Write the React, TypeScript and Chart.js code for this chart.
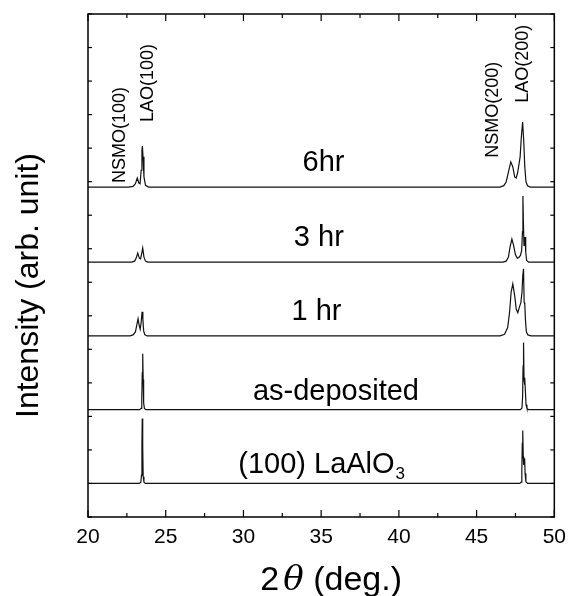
import React, { useEffect, useRef } from "react";
import { Chart, registerables } from "chart.js";

Chart.register(...registerables);

const FONT = "'Liberation Sans', Arial, Helvetica, sans-serif";

// x-axis
const xMin = 20;
const xMax = 50;
const xStep = 2.5;
// y-axis (arbitrary units, stacked)
const yMin = 0;
const yMax = 15;

// axis titles
const xTitleMain = "2";
const xTitleSymbol = "θ";
const xTitleUnit = " (deg.)";
const yTitle = "Intensity (arb. unit)";

// sample names (bottom to top) and their vertical offsets
const sampleNames = ["(100) LaAlO", "as-deposited", "1 hr", "3 hr", "6hr"];
const sampleOffsets = [1.0, 3.2, 5.4, 7.6, 9.84];
// label anchor (2θ, height above baseline)
const sampleLabelX = [35.0, 35.95, 34.7, 34.85, 35.15];
const sampleLabelY = [0.55, 0.53, 0.71, 0.72, 0.72];

// (100) LaAlO3 substrate
const laoX = [20, 23.3, 23.4, 23.44, 23.47, 23.49, 23.52, 23.55, 23.6, 23.7, 47.78, 47.87, 47.91, 47.94, 47.97, 48.0, 48.03, 48.06, 48.09, 48.12, 48.17, 48.28, 50];
const laoY = [0, 0, 0.04, 0.25, 1.2, 1.94, 1.1, 0.2, 0.04, 0, 0, 0.04, 0.4, 1.2, 1.58, 0.8, 0.55, 0.7, 0.75, 0.3, 0.05, 0, 0];

// as-deposited
const asDepX = [20, 23.32, 23.42, 23.46, 23.49, 23.52, 23.55, 23.58, 23.63, 23.72, 47.82, 47.92, 47.96, 47.99, 48.02, 48.05, 48.08, 48.11, 48.14, 48.18, 48.24, 48.35, 50];
const asDepY = [0, 0, 0.04, 0.3, 1.1, 1.67, 0.9, 0.2, 0.04, 0, 0, 0.05, 0.4, 1.3, 2.0, 0.9, 0.75, 0.95, 0.55, 0.15, 0.04, 0, 0];

// 1 hr anneal
const hr1X = [20, 22.7, 22.9, 23.05, 23.15, 23.22, 23.3, 23.36, 23.42, 23.48, 23.53, 23.58, 23.65, 23.8, 46.5, 46.8, 47.0, 47.12, 47.22, 47.33, 47.45, 47.55, 47.65, 47.75, 47.85, 47.92, 47.97, 48.02, 48.06, 48.1, 48.14, 48.2, 48.3, 48.5, 50];
const hr1Y = [0, 0, 0.03, 0.12, 0.35, 0.51, 0.3, 0.2, 0.4, 0.72, 0.5, 0.15, 0.04, 0, 0, 0.05, 0.25, 0.7, 1.3, 1.55, 1.2, 0.8, 0.69, 0.85, 1.0, 1.3, 1.8, 2.0, 1.0, 0.95, 0.5, 0.12, 0.03, 0, 0];

// 3 hr anneal
const hr3X = [20, 22.8, 23.0, 23.1, 23.2, 23.3, 23.38, 23.45, 23.52, 23.6, 23.7, 23.85, 46.7, 46.9, 47.05, 47.15, 47.27, 47.38, 47.5, 47.62, 47.72, 47.82, 47.9, 47.95, 47.98, 48.01, 48.05, 48.08, 48.12, 48.16, 48.22, 48.35, 50];
const hr3Y = [0, 0, 0.03, 0.12, 0.27, 0.12, 0.1, 0.25, 0.42, 0.15, 0.03, 0, 0, 0.03, 0.15, 0.45, 0.69, 0.5, 0.22, 0.12, 0.14, 0.2, 0.35, 0.9, 1.97, 1.2, 0.5, 0.6, 0.75, 0.3, 0.05, 0, 0];

// 6 hr anneal
const hr6X = [20, 22.6, 22.9, 23.05, 23.17, 23.27, 23.35, 23.42, 23.47, 23.5, 23.54, 23.6, 23.7, 23.9, 46.5, 46.75, 46.9, 47.05, 47.2, 47.33, 47.45, 47.55, 47.65, 47.72, 47.8, 47.88, 47.96, 48.03, 48.1, 48.18, 48.28, 48.45, 50];
const hr6Y = [0, 0, 0.02, 0.1, 0.27, 0.12, 0.1, 0.5, 1.1, 1.22, 0.9, 0.3, 0.05, 0, 0, 0.04, 0.15, 0.45, 0.75, 0.6, 0.3, 0.27, 0.45, 0.66, 0.9, 1.5, 1.94, 1.4, 0.6, 0.15, 0.04, 0, 0];

const seriesX = [laoX, asDepX, hr1X, hr3X, hr6X];
const seriesY = [laoY, asDepY, hr1Y, hr3Y, hr6Y];

// peak labels (rotated); x = 2θ, y = start of text in axis units
const peakLabels = ["NSMO(100)", "LAO(100)", "NSMO(200)", "LAO(200)"];
const peakLabelX = [22.09, 23.87, 46.06, 47.96];
const peakLabelY = [9.96, 11.78, 10.71, 12.35];

const framePlugin = {
  id: "frame",
  afterDraw(chart: any) {
    const { ctx, chartArea } = chart;
    const { left, right, top, bottom } = chartArea;
    const x = chart.scales.x;
    const y = chart.scales.y;
    ctx.save();
    ctx.strokeStyle = "#000";
    ctx.lineWidth = 1.5;
    ctx.strokeRect(left, top, right - left, bottom - top);
    ctx.lineWidth = 1.2;
    const line = (x1: number, y1: number, x2: number, y2: number) => {
      ctx.beginPath();
      ctx.moveTo(x1, y1);
      ctx.lineTo(x2, y2);
      ctx.stroke();
    };
    x.ticks.forEach((t: any) => {
      const px = x.getPixelForValue(t.value);
      const len = Math.abs(t.value % 5) < 1e-6 ? 7 : 4;
      line(px, bottom, px, bottom - len);
      line(px, top, px, top + len);
    });
    y.ticks.forEach((t: any) => {
      const py = y.getPixelForValue(t.value);
      line(left, py, left + 4, py);
      line(right, py, right - 4, py);
    });

    ctx.fillStyle = "#000";
    // sample labels
    const SZ = 29;
    ctx.font = `${SZ}px ${FONT}`;
    ctx.textBaseline = "middle";
    sampleNames.forEach((name, i) => {
      const cx = x.getPixelForValue(sampleLabelX[i]);
      const cy = y.getPixelForValue(sampleOffsets[i] + sampleLabelY[i]);
      if (i === 0) {
        ctx.font = `${SZ}px ${FONT}`;
        const w1 = ctx.measureText(name).width;
        ctx.font = `17px ${FONT}`;
        const w2 = ctx.measureText("3").width;
        const start = cx - (w1 + w2) / 2;
        ctx.font = `${SZ}px ${FONT}`;
        ctx.textAlign = "left";
        ctx.fillText(name, start, cy);
        ctx.font = `17px ${FONT}`;
        ctx.fillText("3", start + w1 + 1, cy + 9);
        ctx.font = `${SZ}px ${FONT}`;
      } else {
        ctx.textAlign = "center";
        ctx.fillText(name, cx, cy);
      }
    });

    // peak labels
    ctx.font = `18px ${FONT}`;
    ctx.textAlign = "left";
    ctx.textBaseline = "middle";
    peakLabels.forEach((lab, i) => {
      const px = x.getPixelForValue(peakLabelX[i]);
      const py = y.getPixelForValue(peakLabelY[i]);
      ctx.save();
      ctx.translate(px, py);
      ctx.rotate(-Math.PI / 2);
      ctx.fillText(lab, 0, 0);
      ctx.restore();
    });

    // x-axis title: 2θ (deg.)
    const tx = (left + right) / 2 + 10;
    const ty = chart.height - 15;
    const fUp = `34px ${FONT}`;
    const fIt = `italic 34px 'DejaVu Serif', 'Liberation Serif', serif`;
    ctx.font = fUp;
    const w2 = ctx.measureText(xTitleMain).width;
    const wRest = ctx.measureText(xTitleUnit).width;
    ctx.font = fIt;
    const wTh = ctx.measureText(xTitleSymbol).width;
    const gap = 4;
    let sx = tx - (w2 + gap + wTh + wRest) / 2;
    ctx.textAlign = "left";
    ctx.textBaseline = "middle";
    ctx.font = fUp;
    ctx.fillText(xTitleMain, sx, ty);
    sx += w2 + gap;
    ctx.font = fIt;
    ctx.fillText(xTitleSymbol, sx, ty);
    sx += wTh;
    ctx.font = fUp;
    ctx.fillText(xTitleUnit, sx, ty);

    // y-axis title
    ctx.save();
    ctx.font = `32px ${FONT}`;
    ctx.textAlign = "center";
    ctx.textBaseline = "middle";
    ctx.translate(29, (top + bottom) / 2 + 20);
    ctx.rotate(-Math.PI / 2);
    ctx.fillText(yTitle, 0, 0);
    ctx.restore();

    ctx.restore();
  },
};

export default function App() {
  const ref = useRef<HTMLCanvasElement>(null);
  useEffect(() => {
    if (!ref.current) return;
    const datasets = seriesX.map((xs, i) => ({
      label: sampleNames[i],
      data: xs.map((xv, j) => ({ x: xv, y: sampleOffsets[i] + seriesY[i][j] })),
      borderColor: "#111",
      borderWidth: 1.2,
      pointRadius: 0,
      tension: 0,
      fill: false,
    }));
    const chart = new Chart(ref.current, {
      type: "line",
      data: { datasets },
      options: {
        animation: false,
        responsive: false,
        maintainAspectRatio: false,
        devicePixelRatio: 1,
        layout: { padding: { top: 14, right: 13, left: 0, bottom: 0 } },
        plugins: { legend: { display: false }, tooltip: { enabled: false } },
        scales: {
          x: {
            type: "linear",
            min: xMin,
            max: xMax,
            ticks: {
              stepSize: xStep,
              autoSkip: false,
              maxRotation: 0,
              padding: 8,
              color: "#000",
              font: { family: FONT, size: 21 },
              callback: (v: any) => (Math.abs(Number(v) % 5) < 1e-6 ? String(v) : ""),
            },
            grid: { display: false, drawTicks: false },
            border: { display: false },
            afterFit: (s: any) => {
              s.height = 79;
            },
          },
          y: {
            type: "linear",
            min: yMin,
            max: yMax,
            ticks: { display: false, stepSize: 1 },
            grid: { display: false, drawTicks: false },
            border: { display: false },
            afterFit: (s: any) => {
              s.width = 88;
            },
          },
        },
      } as any,
      plugins: [framePlugin],
    });
    return () => chart.destroy();
  }, []);
  return (
    <div style={{ position: "fixed", left: 0, top: 0, width: 574, height: 596, background: "#fff" }}>
      <canvas ref={ref} width={574} height={596} style={{ display: "block", width: 574, height: 596 }} />
    </div>
  );
}
